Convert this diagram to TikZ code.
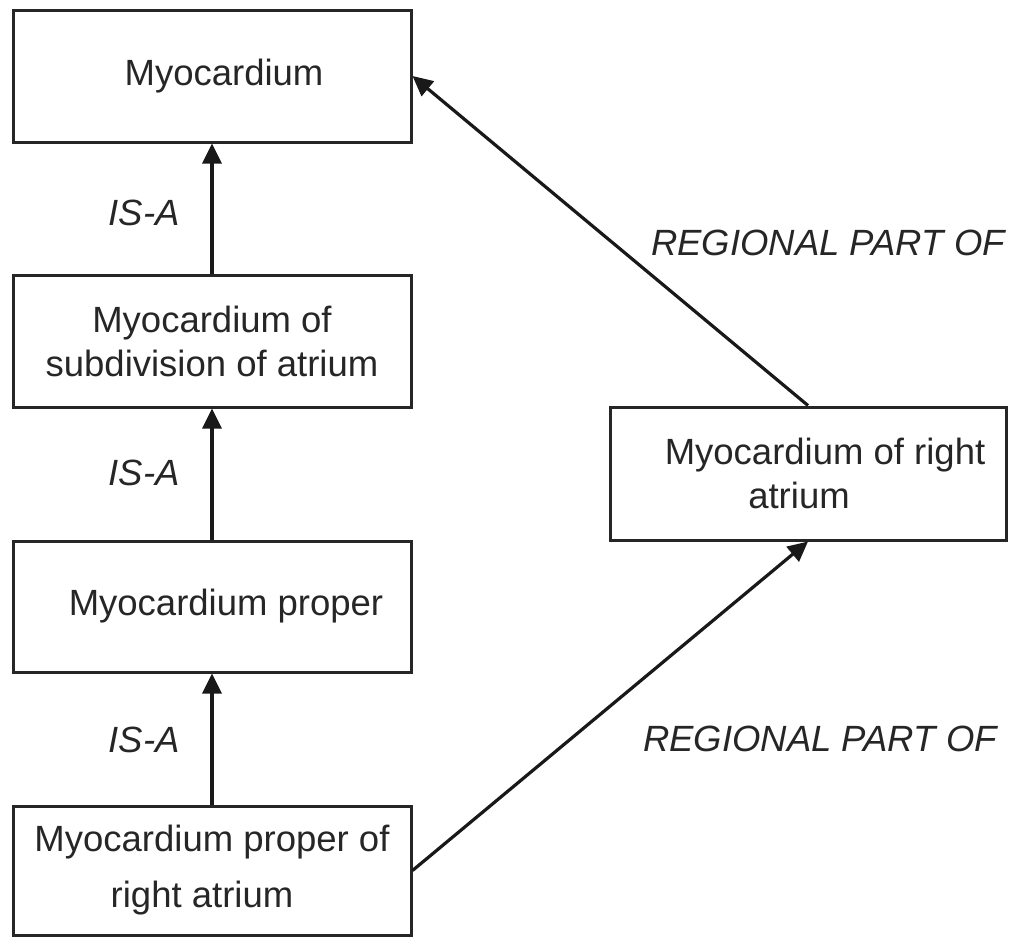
\documentclass[tikz,border=0pt]{standalone}
\usepackage{fontspec}
\setmainfont{Liberation Sans}
\usetikzlibrary{arrows.meta}
\begin{document}
\begin{tikzpicture}[x=1pt,y=-1pt,
  box/.style={draw=black!85, line width=3pt, rectangle, inner sep=0pt, align=center,
    font=\fontsize{36.5}{44}\selectfont, text=black!85},
  lab/.style={font=\fontsize{36.5}{44}\selectfont\itshape, text=black!85, inner sep=0pt},
  arr/.style={line width=3.2pt, draw=black!90, -{Triangle[length=20pt,width=19pt]}}]
\useasboundingbox (0,0) rectangle (1019,938);
\node[box, minimum width=398pt, minimum height=132pt] (b1) at (212,76) {\hspace{24pt}Myocardium};
\node[box, minimum width=398pt, minimum height=132pt] (b2) at (212,341) {Myocardium of\\subdivision of atrium};
\node[box, minimum width=398pt, minimum height=131pt] (b3) at (212,606.5) {\hspace{28pt}Myocardium proper};
\node[box, minimum width=398pt, minimum height=129pt] (b4) at (212,870.5) {Myocardium proper of\\[12pt]\hspace{-20pt}right atrium};
\node[box, minimum width=396pt, minimum height=133pt] (b5) at (808,473.5) {\hspace{34pt}Myocardium of right\\\hspace{-18pt}atrium};
\draw[arr] (b2.north) -- (b1.south);
\draw[arr] (b3.north) -- (b2.south);
\draw[arr] (b4.north) -- (b3.south);
\draw[arr] (b4.east) -- (b5.south);
\draw[arr] (b5.north) -- (b1.east);
\node[lab] (l1) at (144,213) {IS-A};
\node[lab] (l2) at (144,473) {IS-A};
\node[lab] (l3) at (144,740) {IS-A};
\node[lab] (l4) at (828,243) {REGIONAL PART OF};
\node[lab] (l5) at (820,739) {REGIONAL PART OF};
\end{tikzpicture}
\end{document}
